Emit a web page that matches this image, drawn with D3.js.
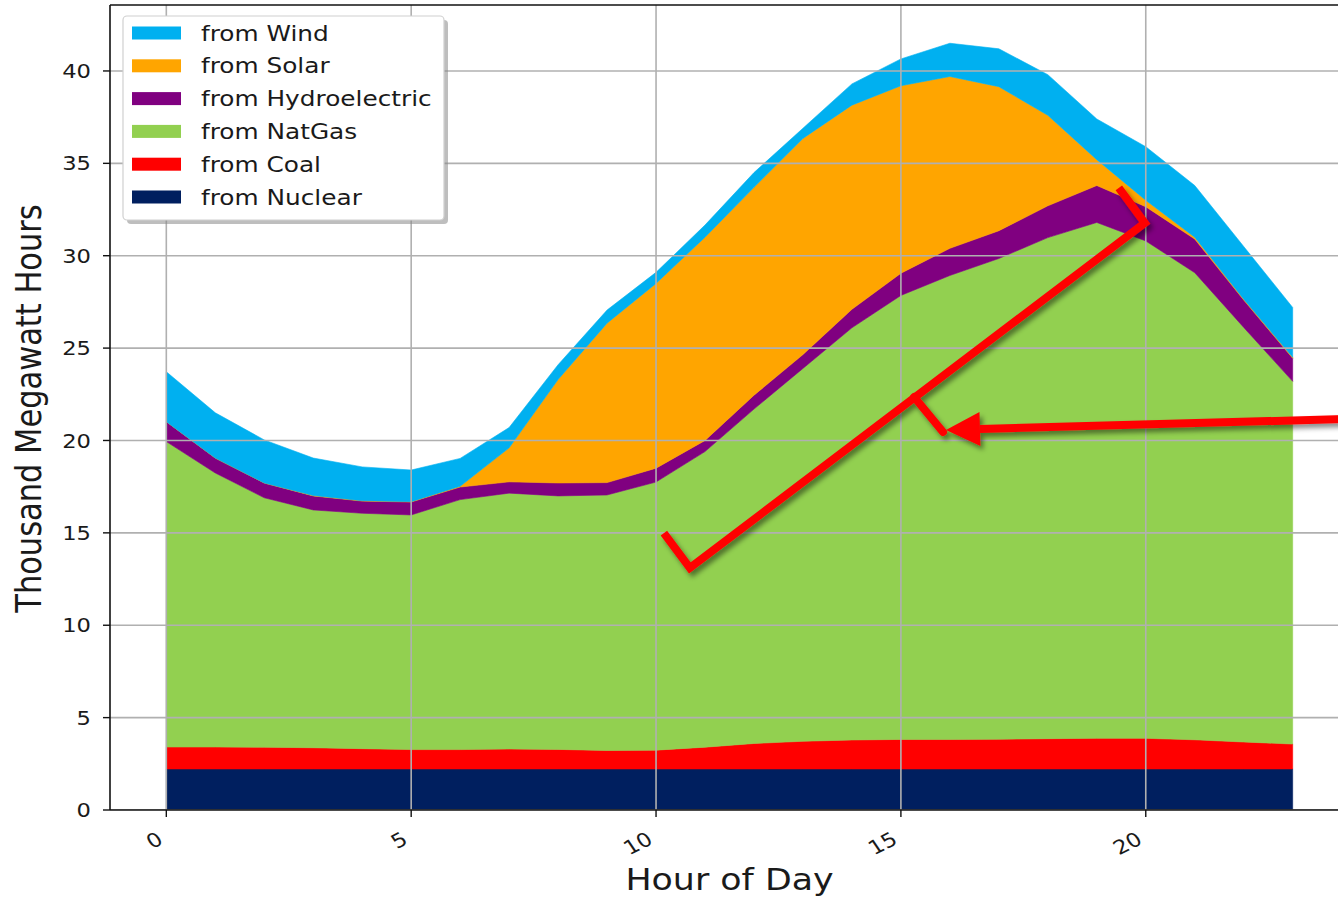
<!DOCTYPE html>
<html><head><meta charset="utf-8">
<script src="https://cdn.jsdelivr.net/npm/d3@7"></script>
<style>
body{margin:0;background:#fff}
svg{display:block}
text{font-family:"DejaVu Sans",sans-serif;fill:#1a1a1a}
</style>
</head><body>
<svg id="c" width="1338" height="900"></svg>
<script>
// ---------- data (thousand MWh per hour) ----------
const hours   = [0,1,2,3,4,5,6,7,8,9,10,11,12,13,14,15,16,17,18,19,20,21,22,23];
const nuclear = [2.22,2.22,2.22,2.22,2.22,2.22,2.22,2.22,2.22,2.22,2.22,2.22,2.22,2.22,2.22,2.22,2.22,2.22,2.22,2.22,2.22,2.22,2.22,2.22];
const coal    = [1.19,1.19,1.18,1.15,1.10,1.05,1.05,1.08,1.06,1.00,1.02,1.18,1.38,1.50,1.57,1.60,1.60,1.61,1.64,1.66,1.66,1.58,1.46,1.35];
const natgas  = [16.53,14.83,13.50,12.87,12.74,12.70,13.53,13.85,13.72,13.83,14.51,16.00,18.10,20.18,22.31,24.03,25.11,26.02,27.12,27.92,26.92,25.28,22.44,19.63];
const hydro   = [1.08,0.81,0.80,0.76,0.66,0.70,0.68,0.61,0.70,0.67,0.75,0.60,0.75,0.75,1.00,1.20,1.47,1.50,1.72,2.00,1.85,1.82,1.48,1.25];
const solar   = [0.00,0.00,0.00,0.02,0.02,0.02,0.04,1.84,5.60,8.63,10.00,11.00,11.25,11.70,11.05,10.15,9.30,7.80,4.90,1.40,0.35,0.10,0.05,0.05];
const wind    = [2.70,2.45,2.33,2.03,1.83,1.71,1.51,1.10,0.80,0.71,0.60,0.66,0.80,0.55,1.15,1.45,1.80,2.05,2.20,2.20,2.90,2.80,2.85,2.70];

const seriesKeys   = ["nuclear","coal","natgas","hydro","solar","wind"];
const seriesLabels = ["from Nuclear","from Coal","from NatGas","from Hydroelectric","from Solar","from Wind"];
const seriesColors = ["#001f5f","#ff0000","#92d050","#800080","#ffa500","#00b0f0"];

const xTicks = [0,5,10,15,20];
const yTicks = [0,5,10,15,20,25,30,35,40];
const xTitle = "Hour of Day";
const yTitle = "Thousand Megawatt Hours";

// annotation (hand-drawn red marks) in data coordinates [hour, value]
const markPath  = [[10.16,14.99],[10.69,13.10],[19.98,31.77],[19.45,33.67]];
const markStub  = [[15.27,22.35],[15.86,20.46]];
const arrowFrom = [24.6,21.2];
const arrowTo   = [15.92,20.57];

// ---------- build ----------
const SX = 1.16;  // horizontal text stretch seen in the picture
const SXL = 1.18; // legend text stretch
const table = hours.map((h,i)=>({hour:h,nuclear:nuclear[i],coal:coal[i],natgas:natgas[i],hydro:hydro[i],solar:solar[i],wind:wind[i]}));

const L=110, T=5, B=810, R=1349;
const x = d3.scaleLinear().domain([-1.15,24.15]).range([L,R]);
const y = d3.scaleLinear().domain([0,43.57]).range([B,T]);

const svg = d3.select("#c");
const defs = svg.append("defs");
defs.append("clipPath").attr("id","plot").append("rect").attr("x",L).attr("y",T).attr("width",R-L).attr("height",B-T);
const f = defs.append("filter").attr("id","shadow").attr("x","-20%").attr("y","-20%").attr("width","140%").attr("height","140%");
f.append("feDropShadow").attr("dx",3).attr("dy",4).attr("stdDeviation",2.5).attr("flood-color","#000").attr("flood-opacity",0.45);

const stack = d3.stack().keys(seriesKeys)(table);
const area = d3.area().x(d=>x(d.data.hour)).y0(d=>y(d[0])).y1(d=>y(d[1]));

const gPlot = svg.append("g").attr("clip-path","url(#plot)");
gPlot.selectAll("path.layer").data(stack).join("path")
  .attr("class","layer").attr("d",area)
  .attr("fill",(d,i)=>seriesColors[i])
  .attr("stroke",(d,i)=>seriesColors[i]).attr("stroke-width",0.6);

// grid on top of areas
const gGrid = svg.append("g").attr("clip-path","url(#plot)");
gGrid.selectAll("line.gx").data(xTicks).join("line")
  .attr("x1",d=>x(d)).attr("x2",d=>x(d)).attr("y1",T).attr("y2",B)
  .attr("stroke","#b0b0b0").attr("stroke-width",1.6);
gGrid.selectAll("line.gy").data(yTicks).join("line")
  .attr("y1",d=>y(d)).attr("y2",d=>y(d)).attr("x1",L).attr("x2",R)
  .attr("stroke","#b0b0b0").attr("stroke-width",1.6);

// spines
svg.append("line").attr("x1",L).attr("x2",R).attr("y1",T).attr("y2",T).attr("stroke","#111").attr("stroke-width",1.6);
svg.append("line").attr("x1",L).attr("x2",L).attr("y1",T).attr("y2",B).attr("stroke","#111").attr("stroke-width",1.6);
svg.append("line").attr("x1",L).attr("x2",R).attr("y1",B).attr("y2",B).attr("stroke","#111").attr("stroke-width",1.6);

// y axis ticks + labels
const gy = svg.append("g");
gy.selectAll("line").data(yTicks).join("line")
  .attr("x1",L-7).attr("x2",L).attr("y1",d=>y(d)).attr("y2",d=>y(d)).attr("stroke","#111").attr("stroke-width",1.4);
gy.selectAll("text").data(yTicks).join("text")
  .attr("transform",d=>`translate(${L-19},${y(d)}) scale(${SX},1)`)
  .attr("text-anchor","end").attr("dy","0.36em").attr("font-size",19.5).text(d=>d);

// x axis ticks + labels
const gx = svg.append("g");
gx.selectAll("line").data(xTicks).join("line")
  .attr("x1",d=>x(d)).attr("x2",d=>x(d)).attr("y1",B).attr("y2",B+7).attr("stroke","#111").attr("stroke-width",1.4);
gx.selectAll("text").data(xTicks).join("text")
  .attr("transform",d=>`translate(${x(d)-6},${B+27}) scale(${SX},1) rotate(-30)`)
  .attr("text-anchor","end").attr("dy","0.36em").attr("font-size",19.5).text(d=>d);

// axis titles
svg.append("text").attr("transform",`translate(${(L+1349)/2},${B+80}) scale(${SX+0.02},1)`)
  .attr("text-anchor","middle").attr("font-size",29.5).text(xTitle);
svg.append("text").attr("transform",`translate(41,${(T+B)/2 + 1}) scale(${SX},1) rotate(-90)`)
  .attr("text-anchor","middle").attr("font-size",30.5).text(yTitle);

// legend
const lg = svg.append("g");
lg.append("rect").attr("x",127).attr("y",20).attr("width",321).attr("height",204).attr("rx",4).attr("fill","#888").attr("opacity",0.55);
lg.append("rect").attr("x",123).attr("y",16).attr("width",321).attr("height",204).attr("rx",4).attr("fill","#fff").attr("stroke","#d0d0d0").attr("stroke-width",1.2);
const legendOrder = d3.range(seriesKeys.length).reverse();
legendOrder.forEach((si,row)=>{
  const cy = 33 + row*32.8;
  lg.append("rect").attr("x",132).attr("y",cy-6.5).attr("width",49).attr("height",13).attr("fill",seriesColors[si]);
  lg.append("text").attr("transform",`translate(201,${cy}) scale(${SXL},1)`).attr("dy","0.36em").attr("font-size",21).text(seriesLabels[si]);
});

// red annotation
const ga = svg.append("g").attr("filter","url(#shadow)");
const ln = d3.line().x(d=>x(d[0])).y(d=>y(d[1]));
ga.append("path").attr("d",ln(markPath)).attr("fill","none").attr("stroke","#ff0000").attr("stroke-width",8).attr("stroke-linejoin","miter");
ga.append("path").attr("d",ln(markStub)).attr("fill","none").attr("stroke","#ff0000").attr("stroke-width",8).attr("stroke-linecap","round");
const ax0=x(arrowFrom[0]), ay0=y(arrowFrom[1]), ax1=x(arrowTo[0]), ay1=y(arrowTo[1]);
const ang=Math.atan2(ay1-ay0, ax1-ax0), headLen=34, headHalf=17;
const bx=ax1-headLen*Math.cos(ang), by=ay1-headLen*Math.sin(ang);
ga.append("line").attr("x1",ax0).attr("y1",ay0).attr("x2",bx).attr("y2",by).attr("stroke","#ff0000").attr("stroke-width",8);
ga.append("path").attr("fill","#ff0000").attr("d",
  `M${ax1},${ay1}L${bx-headHalf*Math.sin(ang)},${by+headHalf*Math.cos(ang)}L${bx+headHalf*Math.sin(ang)},${by-headHalf*Math.cos(ang)}Z`);
</script>
</body></html>
